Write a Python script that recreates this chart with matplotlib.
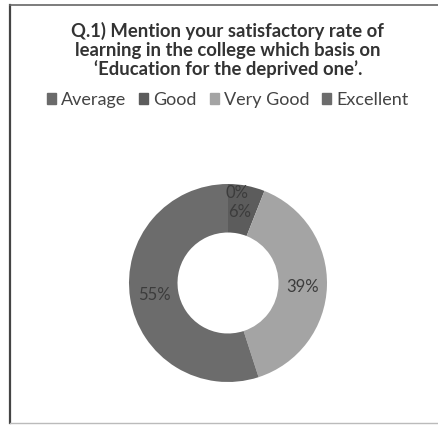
import numpy as np
import matplotlib.pyplot as plt
from matplotlib.lines import Line2D
from matplotlib.patches import Rectangle

plt.rcParams['font.family'] = ['Lato', 'DejaVu Sans']

categories = ['Average', 'Good', 'Very Good', 'Excellent']
values = [0, 6, 39, 55]
labels = ['0%', '6%', '39%', '55%']
colors = ['#6a6a6a', '#5c5c5c', '#a4a4a4', '#6c6c6c']

W, H = 438, 425
fig = plt.figure(figsize=(W / 100, H / 100), dpi=100)
fig.patch.set_facecolor('white')

# chart border (scan shows left/top darker, bottom faint)
fig.add_artist(Line2D([10 / W, 10 / W], [1 - 5 / H, 1 - 423 / H], transform=fig.transFigure,
                      color='#444444', linewidth=1.6))
fig.add_artist(Line2D([10 / W, 1.0], [1 - 5 / H, 1 - 5 / H], transform=fig.transFigure,
                      color='#666666', linewidth=1.2))
fig.add_artist(Line2D([10 / W, 1.0], [1 - 423 / H, 1 - 423 / H], transform=fig.transFigure,
                      color='#bbbbbb', linewidth=1.0))

fig.text(0.52, 1 - 50 / H, "Q.1) Mention your satisfactory rate of\nlearning in the college which basis on\n\u2018Education for the deprived one\u2019.",
         ha='center', va='center', fontsize=13.3, fontweight='bold', color='#333333',
         linespacing=1.08)

# donut: center (228, 283) px, outer radius ~99 px
cx, cy, r = 228, 283, 99
half = r * 1.25
ax = fig.add_axes([(cx - half) / W, (H - cy - half) / H, 2 * half / W, 2 * half / H])
wedges, _ = ax.pie(values, colors=colors, startangle=90, counterclock=False,
                   wedgeprops=dict(width=0.49, edgecolor='none'))
ax.set_aspect('equal')

# percentage labels
label_pos = [(0.09, 0.91), (0.12, 0.72), (0.75, -0.04), (-0.74, -0.12)]
for (x, y), t in zip(label_pos, labels):
    ax.text(x, y, t, ha='center', va='center', fontsize=12, color='#3c3c3c')

handles = [Rectangle((0, 0), 1, 1, color=c) for c in colors]
fig.legend(handles, categories, loc='center', bbox_to_anchor=(0.52, 1 - 100 / H), ncol=4,
           frameon=False, fontsize=13, handlelength=0.5, handleheight=0.5,
           handletextpad=0.3, columnspacing=0.7, labelcolor='#444444')

fig.savefig('out.png', dpi=100)
